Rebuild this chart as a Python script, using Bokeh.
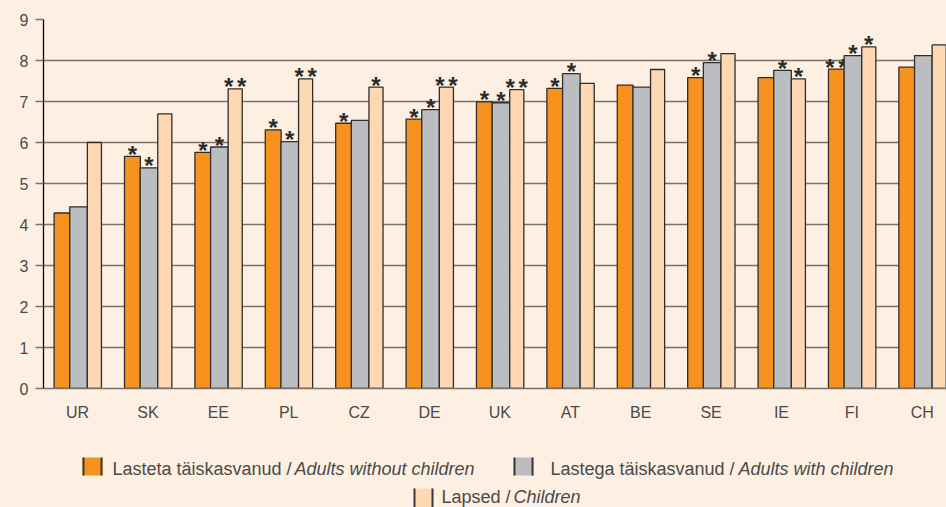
from bokeh.plotting import figure
from bokeh.models import Range1d, FixedTicker, ColumnDataSource
from bokeh.layouts import column
from bokeh.embed import file_html
from bokeh.resources import INLINE
from bokeh.core.properties import value
import numpy as np

# ---------------- data ----------------
categories = ["UR", "SK", "EE", "PL", "CZ", "DE", "UK", "AT", "BE", "SE", "IE", "FI", "CH"]
adults_without = [4.28, 5.66, 5.76, 6.31, 6.47, 6.57, 6.99, 7.32, 7.40, 7.58, 7.58, 7.79, 7.84]
adults_with = [4.43, 5.38, 5.89, 6.02, 6.54, 6.80, 6.97, 7.68, 7.35, 7.95, 7.76, 8.12, 8.12]
children = [6.00, 6.70, 7.31, 7.55, 7.35, 7.35, 7.29, 7.44, 7.78, 8.17, 7.55, 8.33, 8.38]
stars_without = [0, 1, 1, 1, 1, 1, 1, 1, 0, 1, 0, 2, 0]
stars_with = [0, 1, 1, 1, 0, 1, 1, 1, 0, 1, 1, 1, 0]
stars_children = [0, 0, 2, 2, 1, 2, 2, 0, 0, 0, 1, 1, 0]
y_ticks = list(range(10))
legend_native = ["Lasteta täiskasvanud /", "Lastega täiskasvanud /", "Lapsed /"]
legend_italic = ["Adults without children", "Adults with children", "Children"]

# ---------------- style ----------------
BG = "#FDF0E2"
ORANGE = "#F7921E"
GREY = "#BCBDC1"
PEACH = "#FED8B3"
GRID = "#7A716B"
TXT = "#4A4A4A"
FONT = "Liberation Sans"

idx = np.arange(len(categories))

p = figure(width=946, height=440,
           x_range=Range1d(-0.483, 12.344), y_range=Range1d(0, 9),
           output_backend="svg", toolbar_location=None,
           min_border_left=43, min_border_right=0, min_border_top=19, min_border_bottom=52,
           background_fill_color=BG, border_fill_color=BG, outline_line_color=None)

series = [
    (adults_without, stars_without, ORANGE, -0.22, 0.225),
    (adults_with, stars_with, GREY, 0.015, 0.25),
    (children, stars_children, PEACH, 0.24, 0.20),
]

for vals, stars, col, off, w in series:
    src = ColumnDataSource(dict(x=idx + off, top=vals))
    p.vbar(x="x", top="top", width=w, bottom=0, source=src,
           fill_color=col, line_color="#2E2E2E", line_width=1.3)
    sx, sy, so = [], [], []
    for i, n in enumerate(stars):
        if n == 1:
            sx.append(idx[i] + off); sy.append(vals[i]); so.append(0)
        elif n == 2:
            for d in (-6.5, 6.5):
                sx.append(idx[i] + off); sy.append(vals[i]); so.append(d)
    ssrc = ColumnDataSource(dict(x=sx, y=sy, xo=so, t=["*"] * len(sx)))
    p.text(x="x", y="y", text="t", x_offset="xo", y_offset=-2, source=ssrc,
           text_align="center", text_baseline="alphabetic",
           text_font=value(FONT), text_font_style="bold",
           text_font_size="24px", text_color="#2B2B2B")

# axes
p.xaxis.ticker = FixedTicker(ticks=list(idx))
p.xaxis.major_label_overrides = {int(i): c for i, c in zip(idx, categories)}
p.xaxis.major_tick_line_color = None
p.xaxis.minor_tick_line_color = None
p.xaxis.axis_line_color = GRID
p.xaxis.axis_line_width = 1.5
p.xaxis.major_label_standoff = 9
p.xaxis.major_label_text_font = FONT
p.xaxis.major_label_text_font_size = "16px"
p.xaxis.major_label_text_color = TXT

p.yaxis.ticker = FixedTicker(ticks=y_ticks)
p.yaxis.axis_line_color = "black"
p.yaxis.axis_line_width = 1.3
p.yaxis.major_tick_line_color = GRID
p.yaxis.major_tick_line_width = 1.5
p.yaxis.major_tick_out = 8
p.yaxis.major_tick_in = 0
p.yaxis.minor_tick_line_color = None
p.yaxis.major_label_standoff = 7
p.yaxis.major_label_text_font = FONT
p.yaxis.major_label_text_font_size = "16px"
p.yaxis.major_label_text_color = TXT

p.xgrid.grid_line_color = None
p.ygrid.ticker = FixedTicker(ticks=y_ticks)
p.ygrid.grid_line_color = GRID
p.ygrid.grid_line_width = 1.5

# ---------------- legend (separate strip, page-pixel coordinates) ----------------
leg = figure(width=946, height=67, x_range=Range1d(43, 946), y_range=Range1d(507, 440),
             output_backend="svg", toolbar_location=None,
             min_border=0, min_border_left=43, min_border_right=0,
             min_border_top=0, min_border_bottom=0,
             x_axis_type=None, y_axis_type=None,
             background_fill_color=BG, border_fill_color=BG, outline_line_color=None)
leg.grid.visible = False

box_left = [82, 513, 413]
box_top = [457, 457, 488]
box_bottom = [475, 475, 507]
text_x = [112, 550, 441]
ital_x = [294, 738, 513]
base_y = [468, 468, 496]
cols = [ORANGE, GREY, PEACH]
bl = np.array(box_left, dtype=float)
bt = np.array(box_top, dtype=float)
bb = np.array(box_bottom, dtype=float)
leg.quad(left=bl, right=bl + 20, top=bt, bottom=bb, fill_color=cols, line_color=None)
leg.segment(x0=np.concatenate([bl + 1, bl + 19]), y0=np.concatenate([bt, bt]),
            x1=np.concatenate([bl + 1, bl + 19]), y1=np.concatenate([bb, bb]),
            line_color="#3A3A3A", line_width=2)
leg.text(x=text_x, y=base_y, text=legend_native, text_font=value(FONT),
         text_font_size="18px", text_color=TXT, text_baseline="alphabetic", text_align="left")
leg.text(x=ital_x, y=base_y, text=legend_italic, text_font=value(FONT), text_font_style="italic",
         text_font_size="18px", text_color=TXT, text_baseline="alphabetic", text_align="left")

layout = column(p, leg, spacing=0)

try:
    html = file_html(layout, INLINE, title="chart",
                     template="{% block postamble %}<style>body{background:" + BG + ";}</style>{% endblock %}")
except Exception:
    html = file_html(layout, INLINE, title="chart")
open("out.html", "w").write(html)
